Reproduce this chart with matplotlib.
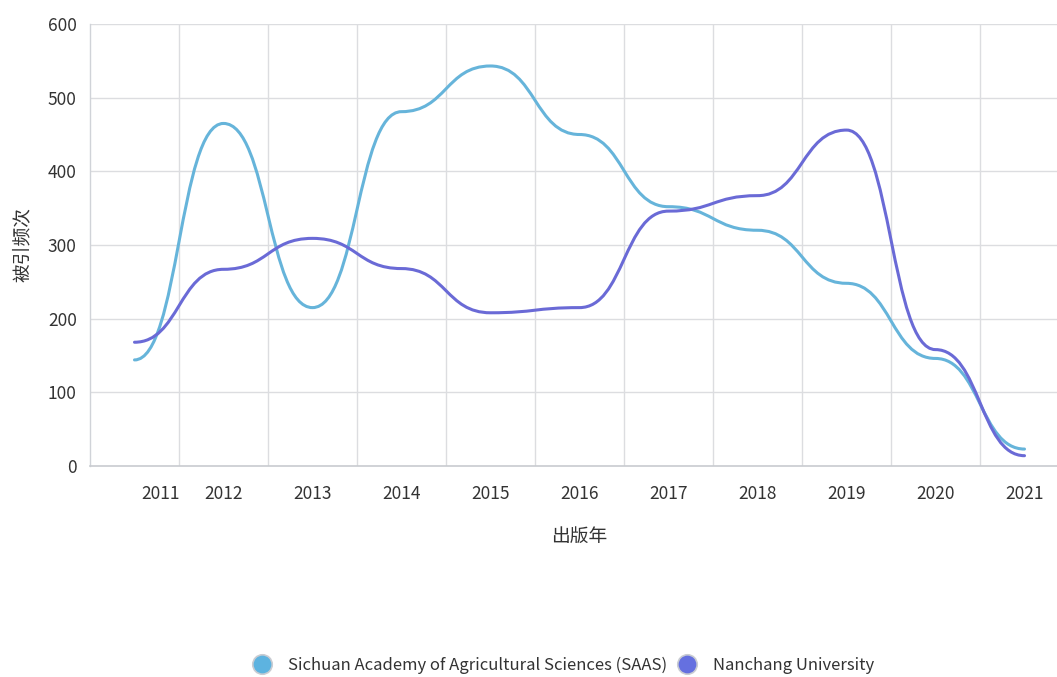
import matplotlib
matplotlib.use("Agg")
import matplotlib.pyplot as plt
from matplotlib.path import Path
from matplotlib.patches import PathPatch
from matplotlib.lines import Line2D
import matplotlib.transforms as mtransforms

plt.rcParams['font.family'] = ['Noto Sans CJK SC', 'DejaVu Sans']

years = ['2011', '2012', '2013', '2014', '2015', '2016', '2017', '2018', '2019', '2020', '2021']
saas = [144, 465, 215, 481, 543, 450, 352, 320, 248, 146, 23]
nanchang = [168, 267, 309, 268, 208, 215, 346, 367, 456, 158, 14]
series_names = ['Sichuan Academy of Agricultural Sciences (SAAS)', 'Nanchang University']
colors = ['#66b4da', '#6a6ad6']
legend_colors = ['#5db3e0', '#6570e0']
y_ticks = [0, 100, 200, 300, 400, 500, 600]

W, H = 1057, 677
fig = plt.figure(figsize=(W / 100, H / 100), dpi=100)
left, right, top, bottom = 90, 1069, 24, 466
ax = fig.add_axes([left / W, 1 - bottom / H, (right - left) / W, (bottom - top) / H])

def smooth_path(xs, ys, s=0.5):
    verts = [(xs[0], ys[0])]
    codes = [Path.MOVETO]
    for i in range(len(xs) - 1):
        x0, y0, x1, y1 = xs[i], ys[i], xs[i + 1], ys[i + 1]
        dx = x1 - x0
        verts += [(x0 + s * dx, y0), (x1 - s * dx, y1), (x1, y1)]
        codes += [Path.CURVE4] * 3
    return Path(verts, codes)

xs = list(range(len(years)))
for vals, c in zip([saas, nanchang], colors):
    patch = PathPatch(smooth_path(xs, vals, 0.5), facecolor='none', edgecolor=c,
                      lw=2.2, capstyle='round', joinstyle='round', zorder=3)
    ax.add_patch(patch)

ax.set_xlim(-0.5, len(years) - 0.5)
ax.set_ylim(0, 600)

grid_c = '#dcdde0'
for yv in y_ticks[1:]:
    ax.axhline(yv, color=grid_c, lw=1.0, zorder=1)
for k in range(len(years) - 1):
    ax.axvline(k + 0.5, color=grid_c, lw=1.0, zorder=1)

for sp in ['top', 'right']:
    ax.spines[sp].set_visible(False)
ax.spines['left'].set_color('#d0d3d8')
ax.spines['bottom'].set_color('#c8cbd0')
ax.spines['left'].set_linewidth(1.0)
ax.spines['bottom'].set_linewidth(1.2)

ax.set_yticks(y_ticks)
ax.set_yticklabels([str(v) for v in y_ticks])
ax.set_xticks(xs)
ax.set_xticklabels(years)
ax.tick_params(axis='both', length=0, labelsize=12.5, labelcolor='#333333')
ax.tick_params(axis='x', pad=14)
ax.tick_params(axis='y', pad=9.5)

# first x label is shifted right in the reference
lab0 = ax.get_xticklabels()[0]
lab0.set_transform(lab0.get_transform() + mtransforms.ScaledTranslation(0.26, 0, fig.dpi_scale_trans))

fig.text(579 / W, 1 - 536 / H, '出版年', ha='center', va='center', fontsize=13.5, color='#333333')
fig.text(22 / W, 1 - 245 / H, '被引频次', ha='center', va='center', rotation=90, fontsize=13.5, color='#333333')

handles = [Line2D([], [], ls='none', marker='o', markersize=14, markerfacecolor=lc,
                  markeredgecolor='#c9ccd2', markeredgewidth=1.2) for lc in legend_colors]
fig.legend(handles, series_names, loc='center', bbox_to_anchor=(564 / W, 1 - 665 / H),
           ncol=2, frameon=False, fontsize=12, handlelength=1.0, handletextpad=1.06,
           columnspacing=0.7, labelcolor='#333333')

fig.savefig('out.png', dpi=100, facecolor='white')
